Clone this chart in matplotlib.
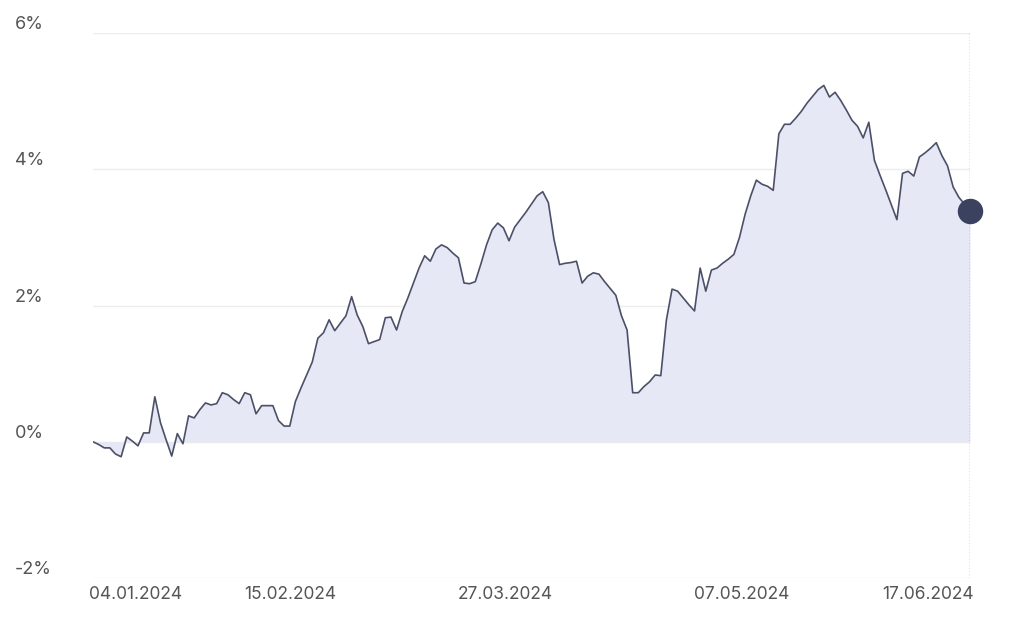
import matplotlib
matplotlib.use("Agg")
import matplotlib.pyplot as plt
import numpy as np

plt.rcParams['font.family'] = ['Inter', 'DejaVu Sans']

# performance in % (one value per trading step)
values = [0.00, -0.04, -0.09, -0.09, -0.18, -0.22, 0.07, 0.01, -0.06, 0.13,
          0.13, 0.66, 0.28, 0.03, -0.21, 0.12, -0.03, 0.38, 0.35, 0.47,
          0.57, 0.54, 0.56, 0.72, 0.69, 0.62, 0.56, 0.72, 0.69, 0.41,
          0.53, 0.53, 0.53, 0.31, 0.23, 0.23, 0.59, 0.79, 0.98, 1.17,
          1.52, 1.60, 1.79, 1.63, 1.74, 1.85, 2.13, 1.86, 1.69, 1.44,
          1.47, 1.50, 1.82, 1.83, 1.64, 1.91, 2.11, 2.33, 2.55, 2.73,
          2.65, 2.83, 2.89, 2.85, 2.77, 2.70, 2.33, 2.32, 2.35, 2.61,
          2.89, 3.11, 3.21, 3.14, 2.95, 3.15, 3.26, 3.37, 3.49, 3.61,
          3.67, 3.51, 2.97, 2.60, 2.62, 2.63, 2.65, 2.33, 2.43, 2.48,
          2.46, 2.35, 2.25, 2.15, 1.85, 1.64, 0.72, 0.72, 0.81, 0.88,
          0.98, 0.97, 1.79, 2.24, 2.21, 2.11, 2.01, 1.92, 2.55, 2.21,
          2.52, 2.55, 2.62, 2.68, 2.75, 3.00, 3.34, 3.61, 3.84, 3.78,
          3.75, 3.69, 4.52, 4.66, 4.66, 4.75, 4.85, 4.97, 5.07, 5.17,
          5.23, 5.06, 5.13, 5.01, 4.87, 4.72, 4.63, 4.46, 4.69, 4.13,
          3.91, 3.70, 3.48, 3.26, 3.94, 3.97, 3.90, 4.18, 4.24, 4.31,
          4.39, 4.20, 4.05, 3.74, 3.59, 3.49, 3.39]
tick_pos = [7.5, 35, 73.4, 115.4, 148.6]
tick_labels = ["04.01.2024", "15.02.2024", "27.03.2024", "07.05.2024", "17.06.2024"]
y_ticks = [-2, 0, 2, 4, 6]

x = np.arange(len(values))
line_c = "#4b5068"

fig = plt.figure(figsize=(10.24, 6.30), dpi=100)
ax = fig.add_axes([93/1024, 1-578/630, (970-93)/1024, (578-33)/630])

ax.fill_between(x, 0, values, color="#e6e8f6", lw=0)
ax.plot(x, values, color=line_c, lw=1.2)
ax.scatter([x[-1]], [values[-1]], s=300, color="#3b4260", zorder=5, clip_on=False)
ax.axvline(x[-1], color="#222", lw=0.9, ls=(0, (1, 1.5)), zorder=4)

ax.set_xlim(0, x[-1])
ax.set_ylim(-2, 6)
for yt in y_ticks:
    ax.axhline(yt, color="#ececec", lw=1, zorder=0)
    ax.text(-78/877, yt, f"{yt}%", transform=ax.get_yaxis_transform(),
            ha="left", va="bottom", fontsize=13, color="#555")

ax.set_yticks([])
ax.set_xticks(tick_pos)
ax.set_xticklabels(tick_labels, fontsize=12.5, color="#555")
ax.tick_params(axis="x", length=0, pad=6)
for s in ax.spines.values():
    s.set_visible(False)

fig.savefig("out.png", dpi=100)
